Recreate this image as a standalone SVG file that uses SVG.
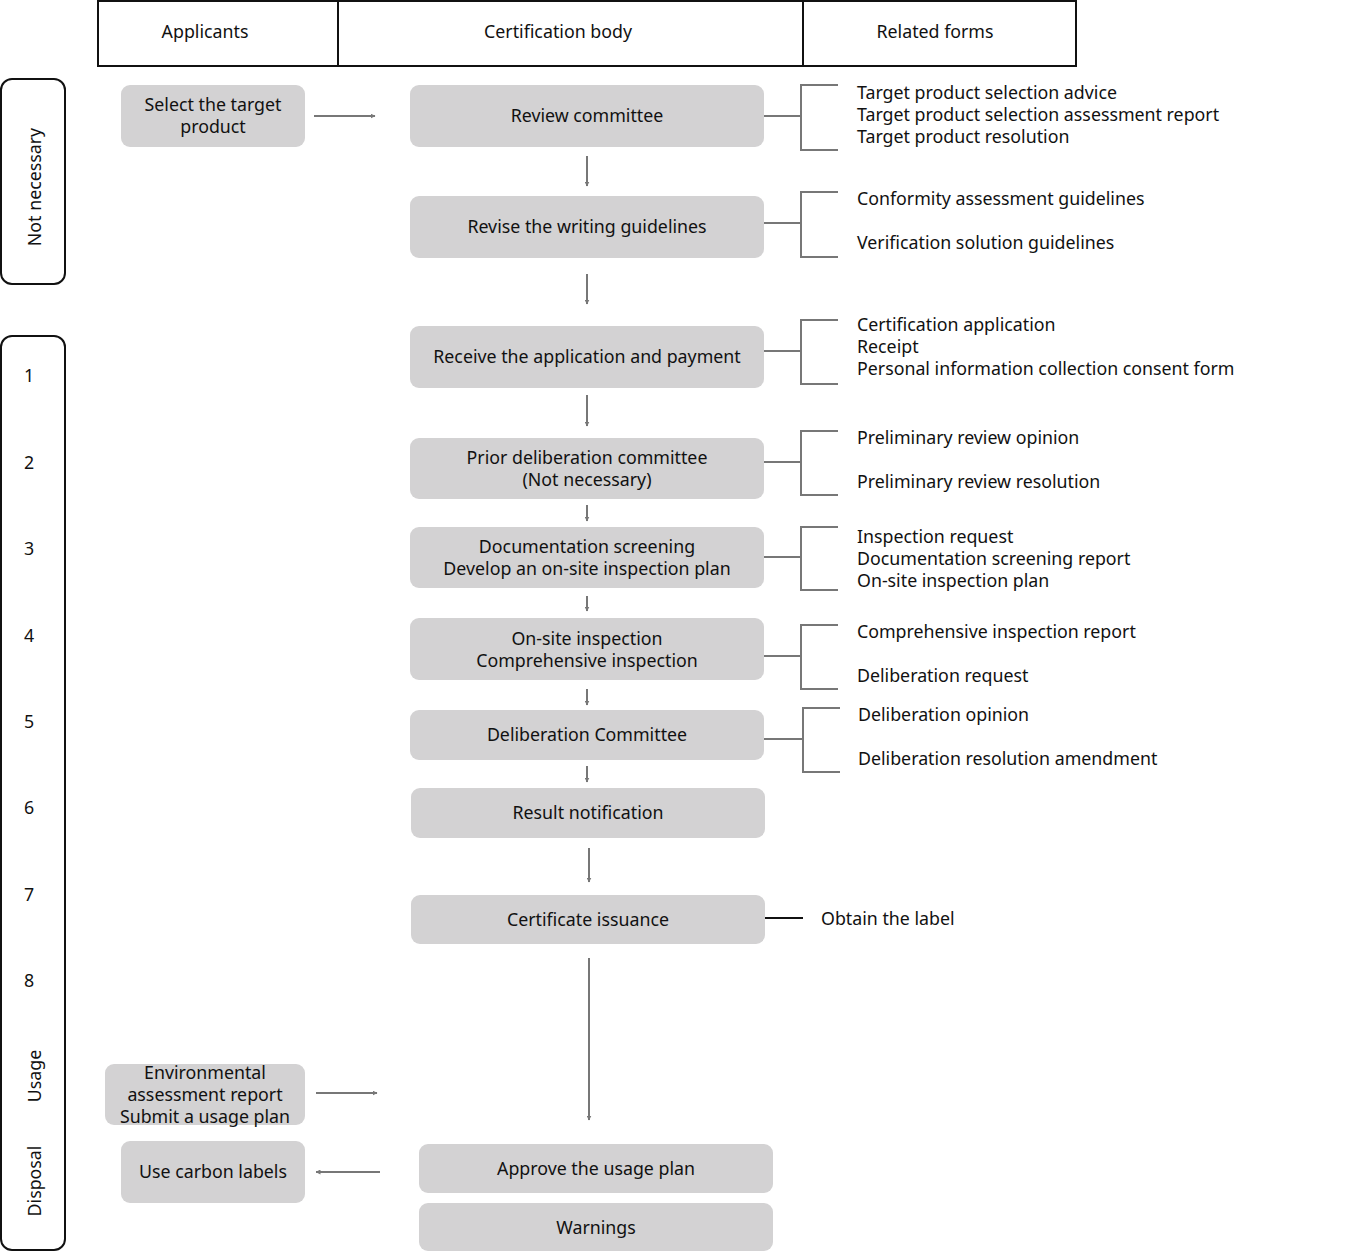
<svg xmlns="http://www.w3.org/2000/svg" width="1372" height="1252" viewBox="0 0 1372 1252">
<defs>
<marker id="ah" viewBox="0 0 10 10" refX="9" refY="5" markerWidth="5" markerHeight="5" orient="auto" markerUnits="userSpaceOnUse">
<path d="M0,0 L10,5 L0,10 z" fill="#777"/>
</marker>
<style>
text{font-family:"Noto Sans","Open Sans","Liberation Sans",sans-serif;font-size:17.8px;fill:#111}
.c{text-anchor:middle}
.n{fill:#d3d2d3;stroke:none}
.lane{fill:#fff;stroke:#111;stroke-width:2}
.ar{stroke:#777;stroke-width:2;fill:none;marker-end:url(#ah)}
.br{stroke:#777;stroke-width:2;fill:none}
</style>
</defs>
<rect width="1372" height="1252" fill="#fff"/>
<g id="header">
<rect x="98" y="1" width="978" height="65" fill="#fff" stroke="#111" stroke-width="2"/>
<line x1="338" y1="1" x2="338" y2="66" stroke="#111" stroke-width="2"/>
<line x1="803" y1="1" x2="803" y2="66" stroke="#111" stroke-width="2"/>
<text class="c" x="205" y="38">Applicants</text>
<text class="c" x="558" y="38">Certification body</text>
<text class="c" x="935" y="38">Related forms</text>
</g>
<g id="lane-not-necessary">
<rect class="lane" x="1" y="79" width="64" height="205" rx="11"/>
<text class="c" transform="translate(41,187) rotate(-90)">Not necessary</text>
</g>
<g id="lane-steps">
<rect class="lane" x="1" y="336" width="64" height="914" rx="11"/>
<text class="c" x="29" y="382">1</text>
<text class="c" x="29" y="469">2</text>
<text class="c" x="29" y="555">3</text>
<text class="c" x="29" y="642">4</text>
<text class="c" x="29" y="728">5</text>
<text class="c" x="29" y="814">6</text>
<text class="c" x="29" y="901">7</text>
<text class="c" x="29" y="987">8</text>
<text class="c" transform="translate(41,1076) rotate(-90)">Usage</text>
<text class="c" transform="translate(41,1181) rotate(-90)">Disposal</text>
</g>
<g id="n-select"><rect class="n" x="121" y="85" width="184" height="62" rx="9"/><text class="c" x="213" y="111">Select the target</text><text class="c" x="213" y="133">product</text></g>
<g id="n-review"><rect class="n" x="410" y="85" width="354" height="62" rx="9"/><text class="c" x="587" y="122">Review committee</text></g>
<g id="n-revise"><rect class="n" x="410" y="196" width="354" height="62" rx="9"/><text class="c" x="587" y="233">Revise the writing guidelines</text></g>
<g id="n-receive"><rect class="n" x="410" y="326" width="354" height="62" rx="9"/><text class="c" x="587" y="363">Receive the application and payment</text></g>
<g id="n-prior"><rect class="n" x="410" y="438" width="354" height="61" rx="9"/><text class="c" x="587" y="464">Prior deliberation committee</text><text class="c" x="587" y="486">(Not necessary)</text></g>
<g id="n-doc"><rect class="n" x="410" y="527" width="354" height="61" rx="9"/><text class="c" x="587" y="553">Documentation screening</text><text class="c" x="587" y="575">Develop an on-site inspection plan</text></g>
<g id="n-onsite"><rect class="n" x="410" y="618" width="354" height="62" rx="9"/><text class="c" x="587" y="645">On-site inspection</text><text class="c" x="587" y="667">Comprehensive inspection</text></g>
<g id="n-delib"><rect class="n" x="410" y="710" width="354" height="50" rx="9"/><text class="c" x="587" y="741">Deliberation Committee</text></g>
<g id="n-result"><rect class="n" x="411" y="788" width="354" height="50" rx="9"/><text class="c" x="588" y="819">Result notification</text></g>
<g id="n-cert"><rect class="n" x="411" y="895" width="354" height="49" rx="9"/><text class="c" x="588" y="926">Certificate issuance</text></g>
<g id="n-env"><rect class="n" x="105" y="1064" width="200" height="61" rx="9"/><text class="c" x="205" y="1079">Environmental</text><text class="c" x="205" y="1101">assessment report</text><text class="c" x="205" y="1123">Submit a usage plan</text></g>
<g id="n-carbon"><rect class="n" x="121" y="1141" width="184" height="62" rx="9"/><text class="c" x="213" y="1178">Use carbon labels</text></g>
<g id="n-approve"><rect class="n" x="419" y="1144" width="354" height="49" rx="9"/><text class="c" x="596" y="1175">Approve the usage plan</text></g>
<g id="n-warn"><rect class="n" x="419" y="1203" width="354" height="48" rx="9"/><text class="c" x="596" y="1234">Warnings</text></g>
<g id="connectors">
<line class="ar" x1="314" y1="116" x2="375" y2="116"/>
<line class="ar" x1="587" y1="156" x2="587" y2="186"/>
<line class="ar" x1="587" y1="274" x2="587" y2="304"/>
<line class="ar" x1="587" y1="395" x2="587" y2="426"/>
<line class="ar" x1="587" y1="505" x2="587" y2="521"/>
<line class="ar" x1="587" y1="596" x2="587" y2="611"/>
<line class="ar" x1="587" y1="689" x2="587" y2="705"/>
<line class="ar" x1="587" y1="766" x2="587" y2="782"/>
<line class="ar" x1="589" y1="848" x2="589" y2="882"/>
<line class="ar" x1="589" y1="958" x2="589" y2="1120"/>
<line class="ar" x1="316" y1="1093" x2="377" y2="1093"/>
<line class="ar" x1="380" y1="1172" x2="316" y2="1172"/>
<path class="br" d="M764,116 H801 M838,85 H801 V150 H838"/>
<path class="br" d="M764,223 H801 M838,192 H801 V257 H838"/>
<path class="br" d="M764,351 H801 M838,320 H801 V384 H838"/>
<path class="br" d="M764,462 H801 M838,431 H801 V495 H838"/>
<path class="br" d="M764,557 H801 M838,527 H801 V590 H838"/>
<path class="br" d="M764,656 H801 M838,625 H801 V689 H838"/>
<path class="br" d="M764,739 H803 M840,708 H803 V772 H840"/>
<line x1="765" y1="918" x2="803" y2="918" stroke="#111" stroke-width="2"/>
</g>
<g id="forms">
<text x="857" y="99">Target product selection advice</text>
<text x="857" y="121">Target product selection assessment report</text>
<text x="857" y="143">Target product resolution</text>
<text x="857" y="205">Conformity assessment guidelines</text>
<text x="857" y="249">Verification solution guidelines</text>
<text x="857" y="331">Certification application</text>
<text x="857" y="353">Receipt</text>
<text x="857" y="375">Personal information collection consent form</text>
<text x="857" y="444">Preliminary review opinion</text>
<text x="857" y="488">Preliminary review resolution</text>
<text x="857" y="543">Inspection request</text>
<text x="857" y="565">Documentation screening report</text>
<text x="857" y="587">On-site inspection plan</text>
<text x="857" y="638">Comprehensive inspection report</text>
<text x="857" y="682">Deliberation request</text>
<text x="858" y="721">Deliberation opinion</text>
<text x="858" y="765">Deliberation resolution amendment</text>
<text x="821" y="925">Obtain the label</text>
</g>
</svg>
